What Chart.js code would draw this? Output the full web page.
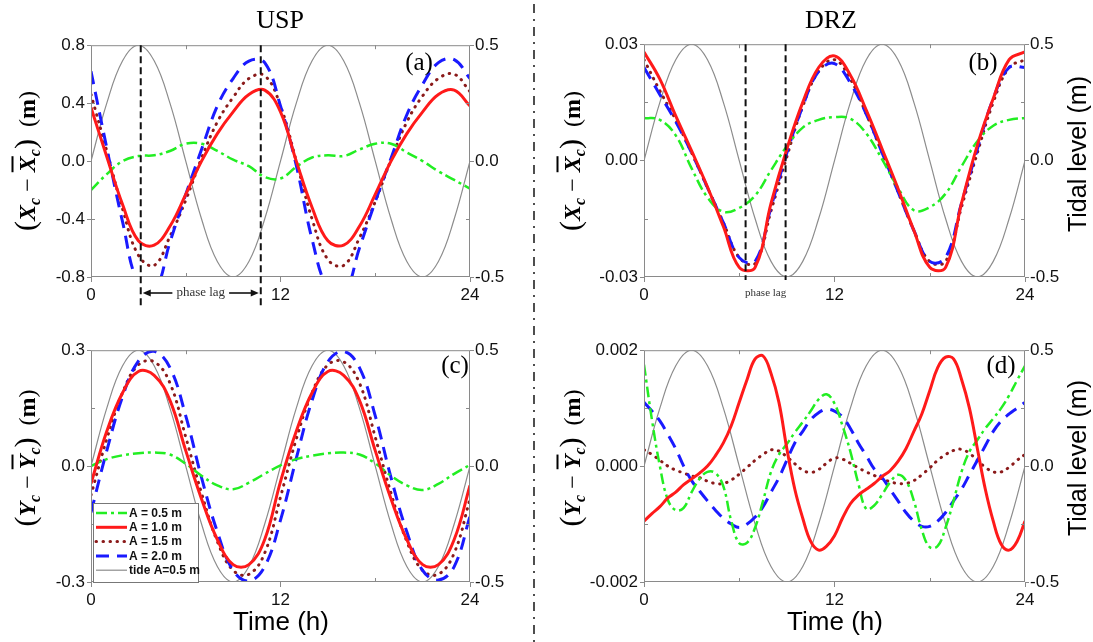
<!DOCTYPE html>
<html lang="en">
<head>
<meta charset="UTF-8">
<title>USP / DRZ – centroid oscillation vs. tide</title>
<script src="https://cdn.jsdelivr.net/npm/chart.js@4.4.1/dist/chart.umd.min.js"></script>
<style>
  body { margin: 0; background: #fff; }
  #fig { position: relative; width: 1093px; height: 642px; overflow: hidden; font-family: 'Liberation Sans', Arial, sans-serif; }
  #fig canvas { position: absolute; }
  .txt { position: absolute; white-space: nowrap; color: #000; line-height: 1; }
  .serif { font-family: 'Liberation Serif', 'Times New Roman', serif; }
  .ctr { transform: translate(-50%, -50%); }
  .rot { transform: translate(-50%, -50%) rotate(-90deg); }
  .ylab { font-size: 24px; }
  .ylab .p { font-size: 30px; }
  .ylab i { font-weight: bold; }
  .ylab sub { font-size: 16px; font-style: italic; font-weight: bold; vertical-align: -5px; }
  .ylab .ov { text-decoration: overline; text-decoration-thickness: 1.5px; }
  .tl { font-size: 25px; }
  .pl { font-size: 25px; }
  .xl { font-size: 26px; }
</style>
</head>
<body>
<div id="fig">
  <canvas id="chartA"></canvas>
  <canvas id="chartB"></canvas>
  <canvas id="chartC"></canvas>
  <canvas id="chartD"></canvas>

  <svg width="1093" height="642" style="position:absolute;left:0;top:0;pointer-events:none">
    <line x1="534" y1="4" x2="534" y2="642" stroke="#222" stroke-width="1.6" stroke-dasharray="9 6 2 6"/>
  </svg>

  <div class="txt serif ctr" style="left:280px;top:20px;font-size:26px">USP</div>
  <div class="txt serif ctr" style="left:831px;top:20px;font-size:26px">DRZ</div>

  <div class="txt serif ctr pl" style="left:419px;top:61px">(a)</div>
  <div class="txt serif ctr pl" style="left:983px;top:61px">(b)</div>
  <div class="txt serif ctr pl" style="left:455px;top:364px">(c)</div>
  <div class="txt serif ctr pl" style="left:1001px;top:364px">(d)</div>

  <div class="txt serif rot ylab" style="left:26px;top:161px"><span class="p">(</span><i>X</i><sub>c</sub> − <i class="ov">X</i><sub>c</sub><span class="p">)</span>&nbsp;&nbsp;(<b>m</b>)</div>
  <div class="txt serif rot ylab" style="left:571px;top:161px"><span class="p">(</span><i>X</i><sub>c</sub> − <i class="ov">X</i><sub>c</sub><span class="p">)</span>&nbsp;&nbsp;(<b>m</b>)</div>
  <div class="txt serif rot ylab" style="left:26px;top:458px"><span class="p">(</span><i>Y</i><sub>c</sub> − <i class="ov">Y</i><sub>c</sub><span class="p">)</span>&nbsp;&nbsp;(<b>m</b>)</div>
  <div class="txt serif rot ylab" style="left:571px;top:458px"><span class="p">(</span><i>Y</i><sub>c</sub> − <i class="ov">Y</i><sub>c</sub><span class="p">)</span>&nbsp;&nbsp;(<b>m</b>)</div>

  <div class="txt rot tl" style="left:1077px;top:154px">Tidal level (m)</div>
  <div class="txt rot tl" style="left:1077px;top:458px">Tidal level (m)</div>

  <div class="txt ctr xl" style="left:281px;top:621px">Time (h)</div>
  <div class="txt ctr xl" style="left:835px;top:621px">Time (h)</div>
</div>

<script>
// time axes (h)
const hours = [0, 1, 2, 3, 4, 5, 6, 7, 8, 9, 10, 11, 12, 13, 14, 15, 16, 17, 18, 19, 20, 21, 22, 23, 24];
const halfHours = [0, 0.5, 1, 1.5, 2, 2.5, 3, 3.5, 4, 4.5, 5, 5.5, 6, 6.5, 7, 7.5, 8, 8.5, 9, 9.5, 10, 10.5, 11, 11.5,
  12, 12.5, 13, 13.5, 14, 14.5, 15, 15.5, 16, 16.5, 17, 17.5, 18, 18.5, 19, 19.5, 20, 20.5, 21, 21.5, 22, 22.5, 23, 23.5, 24];

// tidal level (m), right axis
const tideLevel = [0, 0.25, 0.433, 0.5, 0.433, 0.25, 0, -0.25, -0.433, -0.5, -0.433, -0.25,
  0, 0.25, 0.433, 0.5, 0.433, 0.25, 0, -0.25, -0.433, -0.5, -0.433, -0.25, 0];

// (a) USP, Xc - mean(Xc)
const uspX05 = [-0.2, -0.09, 0.0, 0.035, 0.04, 0.07, 0.12, 0.12, 0.07, 0.01, -0.035, -0.11, -0.12, -0.04, 0.025, 0.04, 0.035, 0.08, 0.12, 0.12, 0.06, 0.0, -0.07, -0.13, -0.19];
const uspX10 = [0.37, 0.03, -0.3, -0.55, -0.58, -0.45, -0.23, 0.0, 0.19, 0.34, 0.46, 0.49, 0.34, 0.0, -0.32, -0.55, -0.58, -0.45, -0.23, 0.0, 0.19, 0.34, 0.46, 0.49, 0.38];
const uspX15 = [0.46, 0.07, -0.33, -0.65, -0.72, -0.52, -0.27, 0.02, 0.27, 0.44, 0.57, 0.59, 0.38, 0.0, -0.4, -0.68, -0.72, -0.53, -0.28, 0.01, 0.27, 0.45, 0.57, 0.6, 0.48];
const uspX20 = [0.62, 0.09, -0.42, -0.85, -0.9, -0.56, -0.23, 0.08, 0.38, 0.57, 0.69, 0.68, 0.38, -0.03, -0.54, -0.88, -0.92, -0.6, -0.28, 0.02, 0.32, 0.53, 0.68, 0.7, 0.57];

// (b) DRZ, Xc - mean(Xc)
const drzX05 = [0.011, 0.0105, 0.0065, -0.002, -0.0095, -0.0132, -0.0122, -0.009, -0.0025, 0.0037, 0.0085, 0.0105, 0.0112, 0.0108, 0.007, 0.0003, -0.007, -0.0128, -0.012, -0.0085, -0.0015, 0.005, 0.009, 0.0105, 0.011];
const drzX10 = [0.028, 0.021, 0.0115, 0.0025, -0.0068, -0.017, -0.0275, -0.0275, -0.011, 0.003, 0.015, 0.024, 0.027, 0.022, 0.013, 0.003, -0.0072, -0.018, -0.0275, -0.0275, -0.011, 0.004, 0.016, 0.026, 0.028];
const drzX15 = [0.026, 0.018, 0.0105, 0.002, -0.007, -0.016, -0.025, -0.0265, -0.013, 0.001, 0.014, 0.023, 0.026, 0.021, 0.012, 0.002, -0.008, -0.018, -0.026, -0.026, -0.012, 0.002, 0.015, 0.024, 0.026];
const drzX20 = [0.024, 0.017, 0.01, 0.002, -0.007, -0.016, -0.025, -0.026, -0.012, 0.002, 0.014, 0.023, 0.025, 0.02, 0.012, 0.002, -0.008, -0.018, -0.026, -0.025, -0.011, 0.003, 0.016, 0.024, 0.024];

// (c) USP, Yc - mean(Yc)
const uspY05 = [0.0, 0.018, 0.028, 0.033, 0.035, 0.03, 0.006, -0.025, -0.05, -0.06, -0.043, -0.02, 0.002, 0.018, 0.027, 0.033, 0.035, 0.03, 0.007, -0.025, -0.05, -0.062, -0.046, -0.02, 0.003];
const uspY10 = [-0.045, 0.09, 0.19, 0.245, 0.235, 0.17, 0.04, -0.085, -0.19, -0.255, -0.255, -0.19, -0.04, 0.09, 0.19, 0.245, 0.235, 0.17, 0.04, -0.085, -0.19, -0.255, -0.255, -0.19, -0.05];
const uspY15 = [-0.075, 0.07, 0.19, 0.262, 0.27, 0.215, 0.075, -0.07, -0.195, -0.27, -0.28, -0.225, -0.08, 0.07, 0.19, 0.262, 0.27, 0.215, 0.075, -0.07, -0.195, -0.27, -0.28, -0.225, -0.085];
const uspY20 = [-0.12, 0.04, 0.18, 0.272, 0.297, 0.255, 0.13, -0.03, -0.17, -0.27, -0.297, -0.26, -0.14, 0.02, 0.17, 0.27, 0.297, 0.255, 0.13, -0.03, -0.17, -0.27, -0.295, -0.26, -0.13];

// (d) DRZ, Yc - mean(Yc), half-hourly
const drzY05 = [0.00175, 0.0008, 0.0, -0.00058, -0.00076, -0.00072, -0.00045, -0.00022, -0.0001, -0.00012, -0.00035, -0.00095,
  -0.00133, -0.00132, -0.00106, -0.0006, -0.0001, 0.0002, 0.00038, 0.00058, 0.00076, 0.00095, 0.00115, 0.00124,
  0.00108, 0.0007, 0.00025, -0.0003, -0.00074, -0.00068, -0.00049, -0.00028, -0.00015, -0.00025, -0.0006, -0.0011,
  -0.0014, -0.00138, -0.00106, -0.0006, -0.0001, 0.00025, 0.00045, 0.00065, 0.00082, 0.001, 0.00122, 0.00148, 0.00173];
const drzY10 = [-0.00095, -0.00082, -0.0007, -0.00055, -0.00045, -0.00032, -0.00022, -0.00012, 0.0, 0.00018, 0.0004, 0.0007,
  0.0011, 0.0015, 0.00185, 0.0019, 0.0016, 0.0011, 0.0003, -0.0004, -0.0009, -0.0013, -0.00145, -0.00138,
  -0.0012, -0.0009, -0.00065, -0.0005, -0.0004, -0.0003, -0.00018, -0.00008, 0.00008, 0.0003, 0.0006, 0.0009,
  0.0013, 0.0017, 0.00188, 0.00185, 0.0015, 0.001, 0.0003, -0.0004, -0.00095, -0.00135, -0.00145, -0.0013, -0.00095];
const drzY15 = [0.00028, 0.0002, 0.0001, 0.0, -0.00007, -0.00012, -0.00017, -0.0002, -0.00026, -0.0003, -0.0003, -0.00024,
  -0.00014, -0.00002, 0.0001, 0.0002, 0.00028, 0.00026, 0.00016, 0.00004, -0.00007, -0.00011, -0.00006, 0.00005,
  0.00014, 0.00012, 0.00005, -0.00003, -0.0001, -0.00016, -0.00022, -0.00027, -0.0003, -0.0003, -0.00025, -0.00015,
  -0.00003, 0.0001, 0.0002, 0.00027, 0.00029, 0.00022, 0.0001, -0.00002, -0.0001, -0.0001, -0.00002, 0.0001, 0.0002];
const drzY20 = [0.0011, 0.00095, 0.00078, 0.00055, 0.0003, 0.0, -0.00025, -0.00043, -0.0006, -0.00076, -0.0009, -0.001,
  -0.00106, -0.001, -0.00088, -0.0007, -0.00045, -0.0002, 0.0001, 0.0004, 0.0006, 0.0008, 0.00092, 0.00098,
  0.00095, 0.00085, 0.00065, 0.0004, 0.00018, -0.00005, -0.0002, -0.0004, -0.0006, -0.0008, -0.00095, -0.00104,
  -0.00104, -0.00095, -0.0008, -0.0006, -0.0004, -0.00015, 0.0001, 0.00035, 0.0006, 0.00078, 0.0009, 0.001, 0.0011];

// tick labels
const timeTicks = [0, 6, 12, 18, 24];
const tideTicks = [-0.5, 0, 0.5];
const ticksA = [-0.8, -0.4, 0, 0.4, 0.8];
const ticksB = [-0.03, 0, 0.03];
const ticksC = [-0.3, 0, 0.3];
const ticksD = [-0.002, 0, 0.002];

const seriesLabels = ['A = 0.5 m', 'A = 1.0 m', 'A = 1.5 m', 'A = 2.0 m', 'tide A=0.5 m'];

// ---------------------------------------------------------------
const M = { left: 60, right: 50, top: 12, bottom: 34 };
const AXIS = '#8a8a8a';
const tickFont = { family: "'Liberation Sans', Arial, sans-serif", size: 17 };

const lineStyles = [
  { borderColor: '#22ee22', borderWidth: 2.5, borderDash: [11, 4, 3, 4], order: 1 },
  { borderColor: '#ff1a1a', borderWidth: 3, order: 0 },
  { borderColor: '#8b1a1a', borderWidth: 3, borderDash: [0.5, 6.5], borderCapStyle: 'round', order: 3 },
  { borderColor: '#1a1aff', borderWidth: 3, borderDash: [13, 8], order: 2 },
  { borderColor: '#8c8c8c', borderWidth: 1.2, order: 4, yAxisID: 'y2' }
];

function series(i, xs, ys) {
  return Object.assign({
    label: seriesLabels[i],
    data: xs.map((x, k) => ({ x: x, y: ys[k] })),
    pointRadius: 0,
    tension: 0.4,
    fill: false,
    yAxisID: 'y'
  }, lineStyles[i]);
}

function arrow(ctx, x0, y, x1) {
  const d = Math.sign(x1 - x0);
  ctx.beginPath(); ctx.moveTo(x0, y); ctx.lineTo(x1 - d * 5, y); ctx.stroke();
  ctx.beginPath(); ctx.moveTo(x1, y); ctx.lineTo(x1 - d * 8, y - 3.5); ctx.lineTo(x1 - d * 8, y + 3.5); ctx.closePath(); ctx.fill();
}

// box round the plot plus small inner ticks
const framePlugin = {
  id: 'frame',
  afterDatasetsDraw(chart) {
    const { ctx, chartArea: a, scales } = chart;
    ctx.save();
    ctx.strokeStyle = AXIS;
    ctx.lineWidth = 1;
    ctx.strokeRect(a.left + 0.5, a.top + 0.5, a.right - a.left - 1, a.bottom - a.top - 1);
    ctx.beginPath();
    [6, 18].forEach(v => {
      const px = Math.round(scales.x.getPixelForValue(v)) + 0.5;
      ctx.moveTo(px, a.bottom); ctx.lineTo(px, a.bottom - 4);
      ctx.moveTo(px, a.top); ctx.lineTo(px, a.top + 4);
    });
    [-0.25, 0.25].forEach(v => {
      const py = Math.round(scales.y2.getPixelForValue(v)) + 0.5;
      ctx.moveTo(a.right, py); ctx.lineTo(a.right - 4, py);
      ctx.moveTo(a.left, py); ctx.lineTo(a.left + 4, py);
    });
    ctx.stroke();
    ctx.restore();
  }
};

// dashed markers for the phase lag between tide and response
const phasePlugin = {
  id: 'phase',
  afterDraw(chart, args, o) {
    if (!o.at) return;
    const { ctx, chartArea: a, scales: { x } } = chart;
    const xs = o.at.map(v => x.getPixelForValue(v));
    ctx.save();
    ctx.strokeStyle = '#111';
    ctx.fillStyle = '#111';
    ctx.lineWidth = 2;
    ctx.setLineDash([7, 4]);
    xs.forEach(px => {
      ctx.beginPath(); ctx.moveTo(px, a.top); ctx.lineTo(px, a.bottom + o.extend); ctx.stroke();
    });
    ctx.setLineDash([]);
    ctx.font = o.font;
    ctx.textAlign = 'center';
    ctx.textBaseline = 'middle';
    const mid = (xs[0] + xs[1]) / 2;
    const ly = a.bottom + o.labelOffset;
    ctx.fillStyle = '#333';
    ctx.fillText('phase lag', mid, ly);
    if (o.arrows) {
      ctx.fillStyle = '#111';
      ctx.lineWidth = 1.6;
      const half = ctx.measureText('phase lag').width / 2 + 4;
      arrow(ctx, mid - half, ly, xs[0] + 2);
      arrow(ctx, mid + half, ly, xs[1] - 2);
    }
    ctx.restore();
  }
};

// legend box inside panel (c)
const boxLegendPlugin = {
  id: 'boxLegend',
  afterDraw(chart, args, o) {
    if (!o.show) return;
    const { ctx, chartArea: a } = chart;
    const bx = a.left + 2, bw = 106, bh = 79, by = a.bottom - bh;
    ctx.save();
    ctx.fillStyle = '#fff';
    ctx.fillRect(bx, by, bw, bh);
    ctx.strokeStyle = '#777';
    ctx.lineWidth = 1;
    ctx.strokeRect(bx + 0.5, by + 0.5, bw - 1, bh);
    ctx.font = "bold 12px 'Liberation Sans', Arial, sans-serif";
    ctx.textBaseline = 'middle';
    ctx.textAlign = 'left';
    const ds = chart.data.datasets;
    [0, 1, 2, 3, 4].forEach((i, row) => {
      const d = ds.find(s => s.label === seriesLabels[i]);
      const y = by + 10 + row * 14.3;
      ctx.strokeStyle = d.borderColor;
      ctx.lineWidth = d.borderWidth;
      ctx.lineCap = d.borderCapStyle || 'butt';
      ctx.setLineDash(d.borderDash || []);
      ctx.beginPath(); ctx.moveTo(bx + 3, y); ctx.lineTo(bx + 34, y); ctx.stroke();
      ctx.setLineDash([]);
      ctx.fillStyle = '#111';
      ctx.fillText(seriesLabels[i], bx + 36, y + 0.5);
    });
    ctx.restore();
  }
};

function makePanel(id, box, leftTicks, digits, datasets, extra) {
  const cv = document.getElementById(id);
  cv.width = box.r - box.l + M.left + M.right;
  cv.height = box.b - box.t + M.top + M.bottom;
  cv.style.left = (box.l - M.left) + 'px';
  cv.style.top = (box.t - M.top) + 'px';

  return new Chart(cv, {
    type: 'line',
    data: { datasets: datasets },
    plugins: [framePlugin, phasePlugin, boxLegendPlugin],
    options: {
      responsive: false,
      animation: false,
      events: [],
      layout: { padding: { top: M.top, left: 0, right: 0, bottom: 0 } },
      elements: { line: { capBezierPoints: false } },
      plugins: {
        legend: { display: false },
        tooltip: { enabled: false },
        phase: extra.phase || {},
        boxLegend: { show: !!extra.legend }
      },
      scales: {
        x: {
          type: 'linear', min: 0, max: 24,
          afterBuildTicks: s => { s.ticks = timeTicks.map(v => ({ value: v })); },
          afterFit: s => { s.height = M.bottom; },
          ticks: { font: tickFont, color: '#111', padding: 3, maxRotation: 0, autoSkip: false,
                   callback: v => (v % 12 === 0 ? String(v) : '') },
          grid: { drawOnChartArea: false, tickLength: 5,
                  color: c => (c.tick && c.tick.value % 12 === 0 ? AXIS : 'rgba(0,0,0,0)') },
          border: { display: false }
        },
        y: {
          position: 'left', min: leftTicks[0], max: leftTicks[leftTicks.length - 1],
          afterBuildTicks: s => { s.ticks = leftTicks.map(v => ({ value: v })); },
          afterFit: s => { s.width = M.left; },
          ticks: { font: tickFont, color: '#111', padding: 2, callback: v => v.toFixed(digits) },
          grid: { drawOnChartArea: false, tickLength: 4, color: AXIS },
          border: { display: false }
        },
        y2: {
          position: 'right', min: -0.5, max: 0.5,
          afterBuildTicks: s => { s.ticks = tideTicks.map(v => ({ value: v })); },
          afterFit: s => { s.width = M.right; },
          ticks: { font: tickFont, color: '#111', padding: 1, callback: v => v.toFixed(1) },
          grid: { drawOnChartArea: false, tickLength: 4, color: AXIS },
          border: { display: false }
        }
      }
    }
  });
}

makePanel('chartA', { l: 91, t: 45, r: 470, b: 277 }, ticksA, 1, [
  series(1, hours, uspX10), series(0, hours, uspX05), series(3, hours, uspX20),
  series(2, hours, uspX15), series(4, hours, tideLevel)
], { phase: { at: [3.15, 10.75], extend: 30, labelOffset: 16, arrows: true, font: "13px 'Liberation Serif', serif" } });

makePanel('chartB', { l: 644, t: 44, r: 1025, b: 277 }, ticksB, 2, [
  series(1, hours, drzX10), series(0, hours, drzX05), series(3, hours, drzX20),
  series(2, hours, drzX15), series(4, hours, tideLevel)
], { phase: { at: [6.4, 8.92], extend: 3, labelOffset: 16, arrows: false, font: "11px 'Liberation Serif', serif" } });

makePanel('chartC', { l: 91, t: 350, r: 470, b: 582 }, ticksC, 1, [
  series(1, hours, uspY10), series(0, hours, uspY05), series(3, hours, uspY20),
  series(2, hours, uspY15), series(4, hours, tideLevel)
], { legend: true });

makePanel('chartD', { l: 644, t: 350, r: 1025, b: 582 }, ticksD, 3, [
  series(1, halfHours, drzY10), series(0, halfHours, drzY05), series(3, halfHours, drzY20),
  series(2, halfHours, drzY15), series(4, hours, tideLevel)
], {});
</script>
</body>
</html>
